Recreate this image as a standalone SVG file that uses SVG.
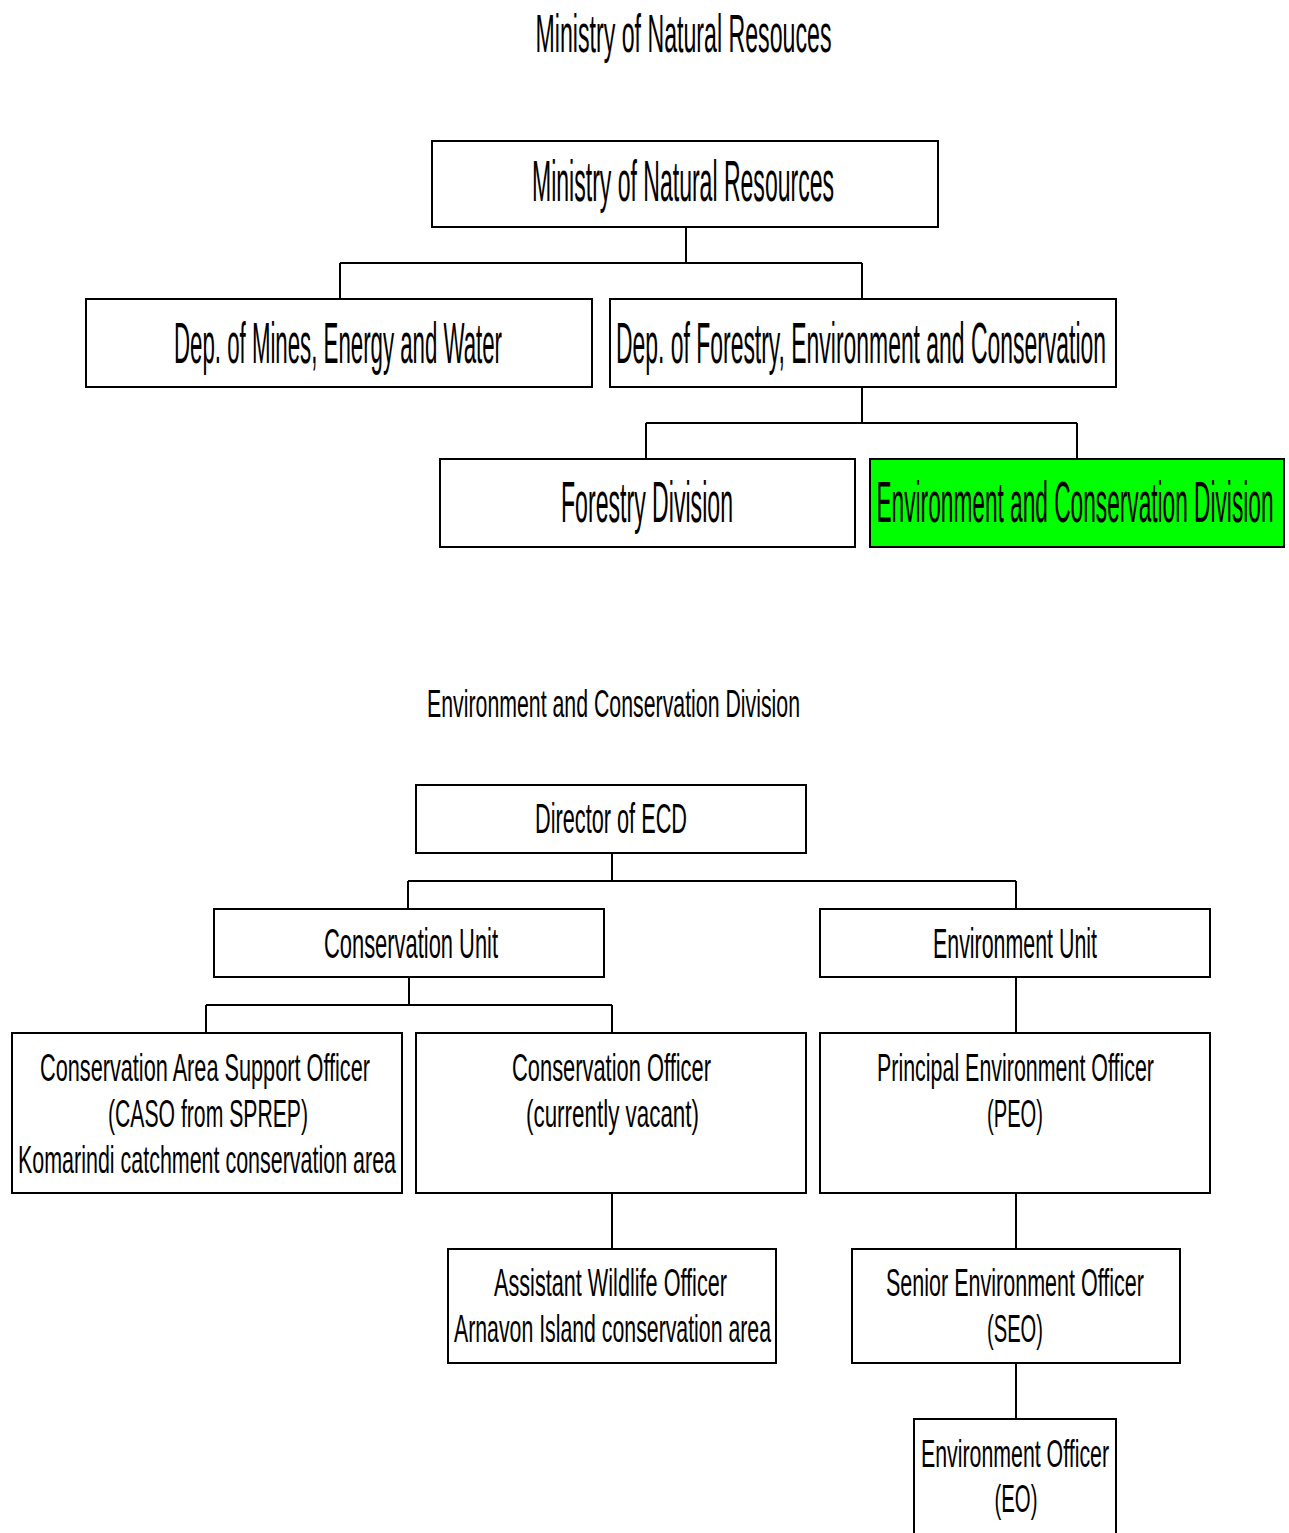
<svg xmlns="http://www.w3.org/2000/svg" width="1289" height="1533" viewBox="0 0 1289 1533">
  <style>
    .box { fill: #ffffff; stroke: #000000; stroke-width: 2; }
    .hl { fill: #00ff00; }
    .t { font-family: "Liberation Sans", Arial, sans-serif; fill: #000000; text-anchor: middle; }
    .big { font-size: 57px; }
    .mid { font-size: 42px; }
    .sm { font-size: 39px; }
    .links { fill: none; stroke: #000000; stroke-width: 2; }
  </style>
  <rect width="1289" height="1533" fill="#ffffff"/>

  <!-- headings -->
  <text class="t" x="683.5" y="52" font-size="54" textLength="296" lengthAdjust="spacingAndGlyphs">Ministry of Natural Resouces</text>
  <text class="t sm" x="613.5" y="717" textLength="373" lengthAdjust="spacingAndGlyphs">Environment and Conservation Division</text>

  <!-- connectors -->
  <g id="connectors" class="links">
    <path d="M686 227 V263 M340 263 H862 M340 263 V299 M862 263 V299"/>
    <path d="M862 387 V423 M646 423 H1077 M646 423 V459 M1077 423 V459"/>
    <path d="M612 853 V881 M408 881 H1016 M408 881 V909 M1016 881 V909"/>
    <path d="M409 977 V1005 M206 1005 H612 M206 1005 V1033 M612 1005 V1033"/>
    <path d="M1016 977 V1033"/>
    <path d="M612 1193 V1249"/>
    <path d="M1016 1193 V1249"/>
    <path d="M1016 1363 V1419"/>
  </g>

  <!-- ministry chart -->
  <g id="ministry">
    <rect class="box" x="432" y="141" width="506" height="86"/>
    <text class="t big" x="683" y="201" textLength="302" lengthAdjust="spacingAndGlyphs">Ministry of Natural Resources</text>
  </g>
  <g id="dep-mines">
    <rect class="box" x="86" y="299" width="506" height="88"/>
    <text class="t big" x="338" y="363" textLength="328" lengthAdjust="spacingAndGlyphs">Dep. of Mines, Energy and Water</text>
  </g>
  <g id="dep-forestry">
    <rect class="box" x="610" y="299" width="506" height="88"/>
    <text class="t big" x="861" y="363" textLength="490" lengthAdjust="spacingAndGlyphs">Dep. of Forestry, Environment and Conservation</text>
  </g>
  <g id="forestry-division">
    <rect class="box" x="440" y="459" width="415" height="88"/>
    <text class="t big" x="647" y="522" textLength="172" lengthAdjust="spacingAndGlyphs">Forestry Division</text>
  </g>
  <g id="ecd">
    <rect class="box hl" x="870" y="459" width="414" height="88"/>
    <text class="t big" x="1075" y="522" textLength="397" lengthAdjust="spacingAndGlyphs">Environment and Conservation Division</text>
  </g>

  <!-- division chart -->
  <g id="director">
    <rect class="box" x="416" y="785" width="390" height="68"/>
    <text class="t mid" x="611" y="833" textLength="152" lengthAdjust="spacingAndGlyphs">Director of ECD</text>
  </g>
  <g id="conservation-unit">
    <rect class="box" x="214" y="909" width="390" height="68"/>
    <text class="t mid" x="411" y="958" textLength="174" lengthAdjust="spacingAndGlyphs">Conservation Unit</text>
  </g>
  <g id="environment-unit">
    <rect class="box" x="820" y="909" width="390" height="68"/>
    <text class="t mid" x="1015" y="958" textLength="164" lengthAdjust="spacingAndGlyphs">Environment Unit</text>
  </g>
  <g id="caso">
    <rect class="box" x="12" y="1033" width="390" height="160"/>
    <text class="t sm" x="205" y="1081" textLength="330" lengthAdjust="spacingAndGlyphs">Conservation Area Support Officer</text>
    <text class="t sm" x="208" y="1127" textLength="200" lengthAdjust="spacingAndGlyphs">(CASO from SPREP)</text>
    <text class="t sm" x="207" y="1173" textLength="378" lengthAdjust="spacingAndGlyphs">Komarindi catchment conservation area</text>
  </g>
  <g id="conservation-officer">
    <rect class="box" x="416" y="1033" width="390" height="160"/>
    <text class="t sm" x="611.5" y="1081" textLength="199" lengthAdjust="spacingAndGlyphs">Conservation Officer</text>
    <text class="t sm" x="612.5" y="1127" textLength="173" lengthAdjust="spacingAndGlyphs">(currently vacant)</text>
  </g>
  <g id="peo">
    <rect class="box" x="820" y="1033" width="390" height="160"/>
    <text class="t sm" x="1015.5" y="1081" textLength="277" lengthAdjust="spacingAndGlyphs">Principal Environment Officer</text>
    <text class="t sm" x="1015" y="1127" textLength="56" lengthAdjust="spacingAndGlyphs">(PEO)</text>
  </g>
  <g id="assistant-wildlife-officer">
    <rect class="box" x="448" y="1249" width="328" height="114"/>
    <text class="t sm" x="610.5" y="1296" textLength="233" lengthAdjust="spacingAndGlyphs">Assistant Wildlife Officer</text>
    <text class="t sm" x="612.5" y="1342" textLength="317" lengthAdjust="spacingAndGlyphs">Arnavon Island conservation area</text>
  </g>
  <g id="seo">
    <rect class="box" x="852" y="1249" width="328" height="114"/>
    <text class="t sm" x="1015" y="1296" textLength="258" lengthAdjust="spacingAndGlyphs">Senior Environment Officer</text>
    <text class="t sm" x="1015" y="1342" textLength="56" lengthAdjust="spacingAndGlyphs">(SEO)</text>
  </g>
  <g id="eo">
    <rect class="box" x="914" y="1419" width="202" height="130"/>
    <text class="t sm" x="1015" y="1467" textLength="188" lengthAdjust="spacingAndGlyphs">Environment Officer</text>
    <text class="t sm" x="1016" y="1512" textLength="43" lengthAdjust="spacingAndGlyphs">(EO)</text>
  </g>
</svg>
